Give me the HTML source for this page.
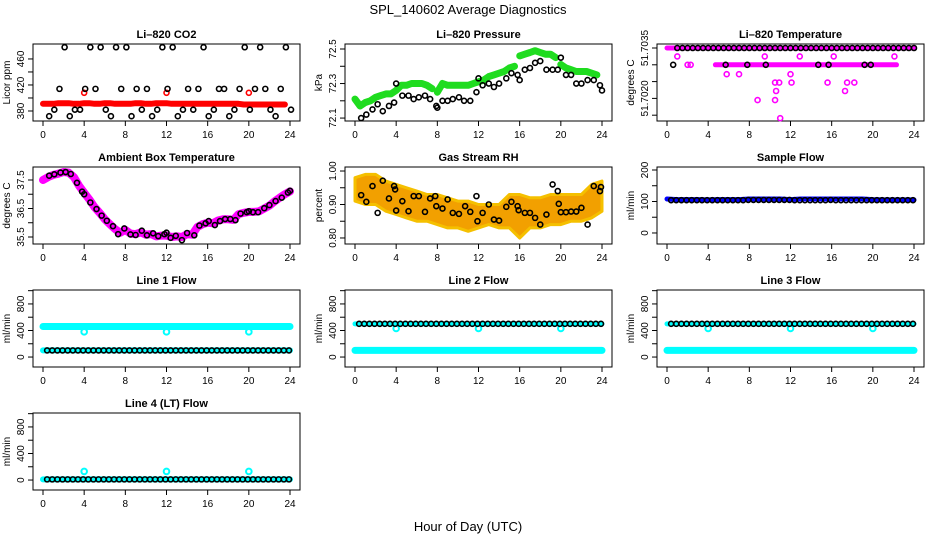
<!DOCTYPE html>
<html><head><meta charset="utf-8"><style>
html,body{margin:0;padding:0;background:#fff}
svg text{font-family:"Liberation Sans",sans-serif}
</style></head><body>
<svg id="c" width="936" height="540" xmlns="http://www.w3.org/2000/svg">
<text x="468" y="14" text-anchor="middle" font-size="13">SPL_140602  Average Diagnostics</text>
<text x="468" y="531" text-anchor="middle" font-size="13">Hour of Day (UTC)</text>
</svg>
<script>
const hoursHalf=[0,0.5,1,1.5,2,2.5,3,3.5,4,4.5,5,5.5,6,6.5,7,7.5,8,8.5,9,9.5,10,10.5,11,11.5,12,12.5,13,13.5,14,14.5,15,15.5,16,16.5,17,17.5,18,18.5,19,19.5,20,20.5,21,21.5,22,22.5,23,23.5,24];
const hoursFull=[0,1,2,3,4,5,6,7,8,9,10,11,12,13,14,15,16,17,18,19,20,21,22,23,24];
const xTicks=[0,4,8,12,16,20,24];
// CO2
const co2Black=[372,372,382,414,478,372,382,382,414,478,414,478,382,372,478,414,478,372,414,382,414,372,382,478,414,478,372,382,414,382,414,478,372,382,414,414,372,382,414,478,382,414,478,414,382,372,414,478,382];
const co2Red=[391,391,391,392,392,392,391,391,392,392,391,391,392,392,391,391,391,391,392,392,391,391,392,392,392,391,391,391,391,391,391,391,391,391,391,391,391,391,391,390,390,390,390,390,390,390,390,390,390];
const co2OutH=[4,12,20], co2OutV=[408,408,408];
// Pressure
const presGreen=[72.21,72.17,72.19,72.20,72.22,72.23,72.24,72.24,72.26,72.29,72.29,72.30,72.30,72.30,72.29,72.27,72.25,72.30,72.29,72.29,72.29,72.29,72.29,72.30,72.31,72.32,72.34,72.35,72.36,72.37,72.39,72.40,72.46,72.47,72.48,72.49,72.48,72.47,72.47,72.45,72.41,72.39,72.38,72.37,72.37,72.37,72.36,72.35,72.34];
const presBlackH=[0.6,1.1,1.7,2.2,2.7,3.3,3.8,4,4.6,5.2,5.7,6.2,6.8,7.3,7.9,8,8.5,9,9.5,10.1,10.6,11.2,11.8,12,12.4,13,13.5,14,14.7,15.2,15.8,16,16.5,17,17.5,18,18.6,19.2,19.7,20,20.5,21,21.5,22,22.6,23.2,23.8,24];
const presBlackV=[72.10,72.12,72.15,72.18,72.14,72.17,72.19,72.30,72.23,72.23,72.21,72.22,72.23,72.21,72.17,72.16,72.20,72.20,72.21,72.22,72.20,72.20,72.25,72.33,72.29,72.30,72.28,72.30,72.33,72.36,72.35,72.32,72.38,72.39,72.42,72.43,72.38,72.38,72.38,72.45,72.35,72.35,72.30,72.30,72.32,72.32,72.29,72.26];
// Li-820 temperature
const tempTopStart=[0,4.7], tempTopEnd=[24,22.3];
const tempTopV=[51.7035,51.7030];
const tempMagH=[1,9.5,12.9,16.2,22.1,5.8,7,12,2,2.3,10.5,10.9,12.1,15.6,17.5,18.2,10.6,17.3,8.8,10.5,11];
const tempMagV=[51.70325,51.70325,51.70325,51.70325,51.70325,51.70272,51.70272,51.70272,51.7030,51.7030,51.70247,51.70247,51.70247,51.70247,51.70247,51.70247,51.70222,51.70222,51.70195,51.70195,51.70141];
const tempBlackLowH=[0.6,5.7,7.8,9.6,14.7,15.7,19.2,19.8];
const tempBlackLowV=[51.7030,51.7030,51.7030,51.7030,51.7030,51.7030,51.7030,51.7030];
// Ambient
const ambH=[0.6,1.1,1.7,2.2,2.7,3.3,3.8,4,4.6,5.2,5.7,6.2,6.8,7.3,7.9,8.5,9,9.6,10.1,10.7,11.2,11.8,12,12.4,12.9,13.5,14,14.7,15.2,15.8,16.1,16.7,17.2,17.7,18.2,18.7,19.2,19.8,20,20.4,20.9,21.5,22,22.6,23.2,23.8,24];
const ambBlack=[37.65,37.70,37.76,37.78,37.71,37.40,37.09,37.0,36.71,36.48,36.25,36.07,35.88,35.60,35.80,35.59,35.57,35.72,35.56,35.63,35.53,35.60,35.65,35.47,35.54,35.39,35.64,35.56,35.90,35.98,36.06,35.92,36.06,36.13,36.13,36.09,36.32,36.37,36.40,36.37,36.37,36.51,36.62,36.76,36.88,37.06,37.12];
const ambMag=[37.50,37.60,37.68,37.72,37.78,37.76,37.60,37.30,37.05,36.82,36.55,36.35,36.12,35.95,35.78,35.65,35.75,35.62,35.60,35.66,35.58,35.60,35.52,35.55,35.55,35.50,35.52,35.50,35.60,35.58,35.85,35.95,36.00,35.98,36.08,36.12,36.12,36.10,36.30,36.35,36.38,36.38,36.40,36.50,36.60,36.75,36.88,37.00,37.10];
// RH
const rhUpper=[0.98,0.99,0.99,0.97,0.96,0.95,0.94,0.93,0.93,0.92,0.91,0.91,0.90,0.90,0.90,0.93,0.93,0.92,0.92,0.93,0.93,0.93,0.93,0.96,0.97];
const rhLower=[0.91,0.90,0.90,0.88,0.87,0.86,0.85,0.85,0.84,0.83,0.83,0.82,0.83,0.84,0.83,0.83,0.80,0.83,0.83,0.84,0.84,0.85,0.85,0.86,0.88];
const rhBlackH=[0.6,1.1,1.7,2.2,2.7,3.3,3.8,3.9,4,4.6,5.2,5.7,6.2,6.8,7.3,7.8,7.9,8.5,9,9.5,10.1,10.7,11.2,11.8,11.9,12.4,13,13.5,14,14.7,15.2,15.8,15.9,16.5,17,17.5,18,18.6,19.2,19.7,19.8,20,20.5,21,21.5,22,22.6,23.2,23.8,23.9];
const rhBlackV=[0.928,0.908,0.955,0.875,0.971,0.918,0.955,0.945,0.882,0.910,0.880,0.925,0.925,0.878,0.918,0.925,0.895,0.888,0.915,0.875,0.872,0.895,0.878,0.925,0.850,0.875,0.900,0.855,0.852,0.893,0.908,0.895,0.883,0.875,0.875,0.860,0.840,0.870,0.960,0.940,0.902,0.877,0.877,0.879,0.879,0.890,0.840,0.955,0.940,0.952];
// Flows
const sampleBlue=[108,106,106,106,105,106,106,106,108,108,108,108,106,108,108,108,108,108,108,108,106,105,105,105,105];
const sampleBlack=[104,104,104,104,104,104,104,104,104,104,104,104,104,104,104,104,105,105,105,105,105,105,105,105,105,104,104,104,104,104,104,104,105,104,104,104,104,104,104,104,104,104,104,104,104,104,104,104,104];
const line1Cyan=460, line1Low=100, line1OutV=[380,380,380], flowOutH=[4,12,20];
const line2Low=100, line2High=500, line2OutV=[430,430,430];
const line4Low=10, line4OutV=[130,130,130];

const svg=document.getElementById('c');
const NS='http://www.w3.org/2000/svg';
function mk(tag,attrs,parent){const e=document.createElementNS(NS,tag);for(const k in attrs)e.setAttribute(k,attrs[k]);(parent||svg).appendChild(e);return e;}

function panel(col,row,name,title,ytitle,lo,hi,yt,ylabs){
  const L=33+312*col,R=L+267,T=44+123*row,B=T+77;
  const g=mk('g',{});
  
  
  const xs=h=>L+10+h*(247/24);
  const ys=v=>B-(v-lo)/(hi-lo)*(B-T);
  const box=mk('rect',{x:L,y:T,width:R-L,height:B-T,fill:'none',stroke:'#000','stroke-width':1},g);
  
  
  const t=mk('text',{x:(L+R)/2,y:T-6,'text-anchor':'middle','font-size':11,'font-weight':'bold'},g);
  t.textContent=title;
  
  
  const xa=mk('g',{},g);
  
  
  mk('line',{x1:xs(0),x2:xs(24),y1:B,y2:B,stroke:'#000'},xa);
  xTicks.forEach(h=>{mk('line',{x1:xs(h),x2:xs(h),y1:B,y2:B+5,stroke:'#000'},xa);
    const tx=mk('text',{x:xs(h),y:B+17,'text-anchor':'middle','font-size':10},xa);tx.textContent=h;});
  const ya=mk('g',{},g);
  
  
  mk('line',{x1:L,x2:L,y1:ys(yt[0]),y2:ys(yt[yt.length-1]),stroke:'#000'},ya);
  yt.forEach((v,i)=>{mk('line',{x1:L-5,x2:L,y1:ys(v),y2:ys(v),stroke:'#000'},ya);
    if(ylabs[i]){const tx=mk('text',{x:0,y:0,'text-anchor':'middle','font-size':10,transform:`translate(${L-9},${ys(v)}) rotate(-90)`},ya);tx.textContent=ylabs[i];}});
  const yl=mk('text',{x:0,y:0,'text-anchor':'middle','font-size':10,transform:`translate(${L-23},${(T+B)/2}) rotate(-90)`},g);
  yl.textContent=ytitle;
  
  
  return {g,xs,ys};
}
function pts(p,hs,vs,color,name,r,sw){
  const g=mk('g',{},p.g);
  
  
  hs.forEach((h,i)=>{mk('circle',{cx:p.xs(h),cy:p.ys(vs[i]),r:r||2.5,fill:'none',stroke:color,'stroke-width':sw||1.6},g);});
}
function band(p,hs,vs,color,name,w){
  const d=hs.map((h,i)=>(i?'L':'M')+p.xs(h).toFixed(1)+','+p.ys(vs[i]).toFixed(1)).join('');
  const e=mk('path',{d:d,fill:'none',stroke:color,'stroke-width':w,'stroke-linejoin':'round','stroke-linecap':'round'},p.g);
  
  
}
const same=(n,v)=>hoursHalf.slice(0,n).map(()=>v);

// CO2
let p=panel(0,0,'co2','Li\u2013820 CO2','Licor ppm',364.6,483,[380,400,420,440,460],['380','','420','','460']);
band(p,hoursHalf.slice(0,48),co2Red.slice(0,48),'#f00','co2-red-series',6);
pts(p,co2OutH,co2OutV,'#f00','co2-red-outliers');
pts(p,hoursHalf.slice(1,49).map(h=>h+0.1),co2Black.slice(1,49),'#000','co2-black-series');
// Pressure
p=panel(1,0,'pressure','Li\u2013820 Pressure','kPa',72.083,72.529,[72.1,72.2,72.3,72.4,72.5],['72.1','','72.3','','72.5']);
band(p,hoursHalf.slice(0,16),presGreen.slice(0,16),'#1fdc1f','pressure-green-1',7);
band(p,hoursHalf.slice(16,32),presGreen.slice(16,32),'#1fdc1f','pressure-green-2',7);
band(p,hoursHalf.slice(32,40),presGreen.slice(32,40),'#1fdc1f','pressure-green-3',7);
band(p,hoursHalf.slice(40,48),presGreen.slice(40,48),'#1fdc1f','pressure-green-4',7);
pts(p,presBlackH,presBlackV,'#000','pressure-black-series');
// Temperature
p=panel(2,0,'li820-temp','Li\u2013820 Temperature','degrees C',51.701327,51.703619,[51.7035,51.7030,51.7025,51.7020,51.7015],['51.7035','','','51.7020','']);
tempTopV.forEach((v,i)=>band(p,[tempTopStart[i],tempTopEnd[i]],[v,v],'#f0f','temp-magenta-level-'+(i+1),5));
pts(p,tempMagH,tempMagV,'#f0f','temp-magenta-points');
pts(p,hoursHalf.slice(2),same(47,51.7035),'#000','temp-black-top');
pts(p,tempBlackLowH,tempBlackLowV,'#000','temp-black-low');
// Ambient
p=panel(0,1,'ambient','Ambient Box Temperature','degrees C',35.254,37.956,[35.5,36.0,36.5,37.0,37.5],['35.5','','36.5','','37.5']);
band(p,hoursHalf,ambMag,'#f0f','ambient-magenta-series',8);
pts(p,ambH,ambBlack,'#000','ambient-black-series');
// RH
p=panel(1,1,'rh','Gas Stream RH','percent',0.782,1.012,[0.80,0.85,0.90,0.95,1.00],['0.80','','0.90','','1.00']);
(function(){const d=hoursFull.map((h,i)=>(i?'L':'M')+p.xs(h).toFixed(1)+','+p.ys(rhUpper[i]).toFixed(1)).join('')+
 hoursFull.slice().reverse().map((h,j)=>'L'+p.xs(h).toFixed(1)+','+p.ys(rhLower[24-j]).toFixed(1)).join('')+'Z';
 const e=mk('path',{d:d,fill:'#f2a000',stroke:'#f5c000','stroke-width':3,'stroke-linejoin':'round'},p.g);
 
 })();
pts(p,rhBlackH,rhBlackV,'#000','rh-black-series');
// Sample flow
p=panel(2,1,'sample-flow','Sample Flow','ml/min',-35,209.5,[0,50,100,150,200],['0','','100','','200']);
band(p,hoursFull,sampleBlue,'#00f','sample-blue-series',5);
pts(p,hoursHalf.slice(1).map(h=>h-0.1),sampleBlack.slice(1),'#000','sample-black-series');
const fT=[0,200,400,600,800,1000],fL=['0','','400','','800',''];
// Line 1
p=panel(0,2,'line1','Line 1 Flow','ml/min',-150,1010,fT,fL);
band(p,[0,24],[line1Cyan,line1Cyan],'#0ff','line1-cyan-high',7);
band(p,[0,24],[line1Low,line1Low],'#0ff','line1-cyan-low',6);
pts(p,flowOutH,line1OutV,'#0ff','line1-cyan-outliers',2.8,2);
pts(p,hoursHalf.slice(1).map(h=>h-0.1),same(48,line1Low),'#000','line1-black-series');
// Line 2 and 3
[['line2','Line 2 Flow',1],['line3','Line 3 Flow',2]].forEach(([n,tt,c])=>{
 p=panel(c,2,n,tt,'ml/min',-150,1010,fT,fL);
 band(p,[0,24],[line2Low,line2Low],'#0ff',n+'-cyan-low',7);
 band(p,[0,24],[line2High,line2High],'#0ff',n+'-cyan-high',5);
 pts(p,flowOutH,line2OutV,'#0ff',n+'-cyan-outliers',2.8,2);
 pts(p,hoursHalf.slice(1).map(h=>h-0.1),same(48,line2High),'#000',n+'-black-series');
});
// Line 4
p=panel(0,3,'line4','Line 4 (LT) Flow','ml/min',-150,1010,fT,fL);
band(p,[0,24],[line4Low,line4Low],'#0ff','line4-cyan-low',6);
pts(p,flowOutH,line4OutV,'#0ff','line4-cyan-outliers',2.8,2);
pts(p,hoursHalf.slice(1).map(h=>h-0.1),same(48,line4Low),'#000','line4-black-series');
</script>
</body></html>
